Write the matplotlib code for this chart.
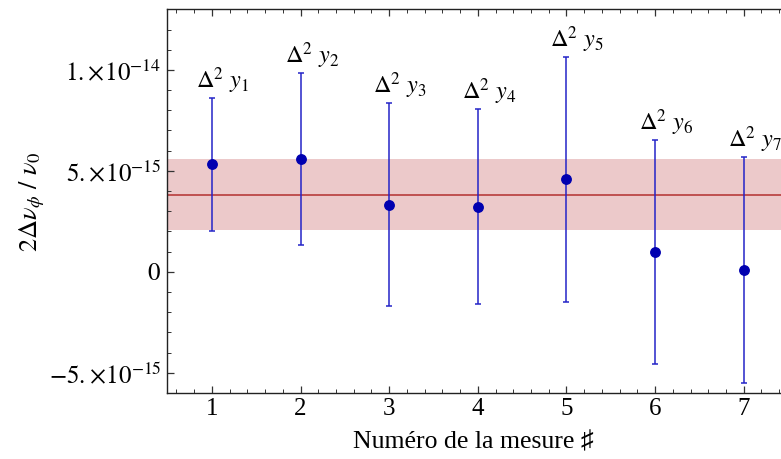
import matplotlib
matplotlib.use("Agg")
import matplotlib.pyplot as plt
from matplotlib.ticker import MultipleLocator, FixedLocator, FixedFormatter

# Measurements: index, value of 2*Δν_φ/ν_0 and its uncertainty
measure_idx = [1, 2, 3, 4, 5, 6, 7]
values = [5.32e-15, 5.60e-15, 3.32e-15, 3.23e-15, 4.58e-15, 0.99e-15, 0.08e-15]
errors = [3.28e-15, 4.26e-15, 5.02e-15, 4.83e-15, 6.05e-15, 5.53e-15, 5.60e-15]
point_labels = [r"$\Delta^2\ y_{%d}$" % i for i in measure_idx]

# Weighted mean and its uncertainty band
mean_value = 3.82e-15
mean_error = 1.77e-15

ytick_values = [-5e-15, 0, 5e-15, 1e-14]
ytick_labels = [r"$-5.\!\times\!10^{-15}$", r"$0$",
                r"$5.\!\times\!10^{-15}$", r"$1.\!\times\!10^{-14}$"]

plt.rcParams["mathtext.fontset"] = "stix"
plt.rcParams["font.family"] = ["Liberation Serif", "DejaVu Serif", "DejaVu Sans"]

fig = plt.figure(figsize=(7.81, 4.59), dpi=100)
ax = fig.add_axes([0.2134, 0.1438, 1.0 - 0.2134, 0.9797 - 0.1438])

xlim = (0.49, 7.42)
ax.set_xlim(*xlim)
ax.set_ylim(-6.0e-15, 13.0e-15)

ax.axhspan(mean_value - mean_error, mean_value + mean_error,
           color="#ecc9ca", lw=0, zorder=1)
ax.axhline(mean_value, color="#b83c3c", lw=1.2, zorder=2)

ax.errorbar(measure_idx, values, yerr=errors, fmt="o", color="#0000b0",
            ecolor="#2424c8", elinewidth=1.1, capsize=2.2, capthick=1.1,
            markersize=6.8, zorder=3)

for x, v, e, lab in zip(measure_idx, values, errors, point_labels):
    ax.annotate(lab, xy=(x, v + e), xytext=(-11.5, 7), textcoords="offset points",
                ha="left", va="baseline", fontsize=17.5, color="black")

# Frame: ticks inside, mirrored on top, right edge left open
ax.spines["right"].set_visible(False)
for s in ("left", "top", "bottom"):
    ax.spines[s].set_linewidth(1.0)
    ax.spines[s].set_color("#222222")

ax.xaxis.set_major_locator(MultipleLocator(1))
ax.xaxis.set_minor_locator(MultipleLocator(0.2))
ax.yaxis.set_major_locator(FixedLocator(ytick_values))
ax.yaxis.set_major_formatter(FixedFormatter(ytick_labels))
ax.yaxis.set_minor_locator(MultipleLocator(1e-15))

ax.tick_params(axis="both", which="both", direction="in", top=True,
               right=False, colors="#333333", labelcolor="black", labelsize=18)
ax.tick_params(which="major", length=5, width=0.9)
ax.tick_params(which="minor", length=3, width=0.7)
ax.tick_params(axis="x", pad=3.5)
ax.tick_params(axis="y", pad=4)

ax.set_xlabel("Numéro de la mesure ♯", fontsize=18.5)
ax.xaxis.set_label_coords(0.5, -0.10)
ax.set_ylabel(r"$2\Delta\nu_\phi\ /\ \nu_0$", fontsize=19)
ax.yaxis.set_label_coords(-0.195, 0.5)

fig.savefig("out.png", dpi=100)
